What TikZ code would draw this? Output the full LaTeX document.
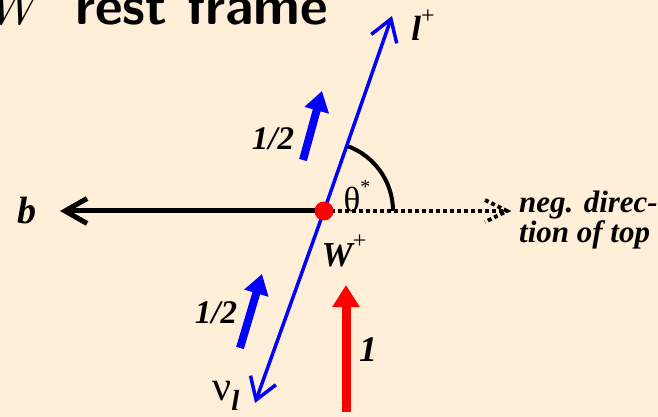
\documentclass[tikz,border=0pt]{standalone}
\usepackage{fontspec}
\newfontfamily\labelfont{Liberation Serif}
\usepackage{xcolor}
\definecolor{pageBg}{HTML}{FFEED8}
\definecolor{leptonBlue}{HTML}{0000FF}
\definecolor{spinRed}{HTML}{FF0000}
\usetikzlibrary{arrows.meta}
\newcommand{\supsign}[1]{\raisebox{0.5em}{\fontsize{24}{24}\selectfont\mdseries\upshape #1}}
\tikzset{
  lbl/.style={
    inner sep=0pt,
    font=\labelfont\bfseries\itshape\fontsize{33}{33}\selectfont
  },
  notelbl/.style={
    inner sep=0pt,
    align=left,
    font=\labelfont\bfseries\itshape\fontsize{31}{28}\selectfont
  },
  lepline/.style={
    draw=leptonBlue,
    line width=3.5pt,
    -{Straight Barb[length=21pt,width=27pt]}
  },
  bline/.style={
    draw=black,
    line width=5pt,
    -{Straight Barb[length=22pt,width=25pt]}
  },
  topdots/.style={
    draw=black,
    line width=4pt,
    dash pattern=on 4pt off 3pt
  },
  anglearc/.style={
    draw=black,
    line width=4pt
  },
  spinhalf/.style={
    draw=leptonBlue,
    line width=8pt,
    -{Triangle[length=20pt,width=24pt]}
  },
  spinone/.style={
    draw=spinRed,
    line width=9pt,
    -{Triangle[length=22pt,width=26pt]}
  },
  wdot/.style={
    circle,
    fill=spinRed,
    minimum size=19pt,
    inner sep=0pt
  }
}

\begin{document}
\begin{tikzpicture}[x=1pt,y=1pt]
  \fill[pageBg] (-324,-206) rectangle (334,211);
  \useasboundingbox (-324,-206) rectangle (334,211);
  \clip (-324,-206) rectangle (334,211);
  % title, cut by the page edge
  \node[anchor=base east,inner sep=0pt,font=\itshape\fontsize{54}{54}\selectfont] (titlew) at (-287,186) {W};
  \node[anchor=base west,inner sep=0pt,font=\sffamily\bfseries\fontsize{54}{54}\selectfont] (title) at (-249,186) {rest frame};
  % decay axes
  \coordinate (wc) at (0,0);
  \coordinate (ltip) at (68,195);
  \coordinate (nutip) at (-69,-192);
  \coordinate (btip) at (-264,0);
  \coordinate (toptip) at (183,0);
  \draw[bline] (wc) -- (btip);
  \draw[topdots] (wc) -- (toptip);
  \draw[topdots] ([shift={(-22,11)}]toptip) -- (toptip) -- ([shift={(-22,-11)}]toptip);
  \draw[anglearc] (69,0) arc[start angle=0,end angle=70.8,radius=69];
  \draw[lepline] (wc) -- (ltip);
  \draw[lepline] (wc) -- (nutip);
  \node[wdot] (wplus) at (wc) {};
  % spins
  \coordinate (spinatail) at (-21,51);
  \coordinate (spinatip) at (-2,120);
  \coordinate (spinbtail) at (-84,-137);
  \coordinate (spinbtip) at (-62,-63);
  \coordinate (spinwtail) at (22,-201);
  \coordinate (spinwtip) at (22,-74);
  \foreach \s in {spina,spinb}{\draw[spinhalf] (\s tail) -- (\s tip);}
  \draw[spinone] (spinwtail) -- (spinwtip);
  % labels
  \node[lbl,font=\labelfont\bfseries\itshape\fontsize{38}{38}\selectfont] (blabel) at (-297,0) {b};
  \node[lbl,font=\labelfont\bfseries\itshape\fontsize{35}{35}\selectfont] (llabel) at (99,186) {l\supsign{+}};
  \node[lbl,font=\labelfont\bfseries\itshape\fontsize{35}{35}\selectfont] (wlabel) at (20,-40) {W\supsign{+}};
  \node[lbl,font=\labelfont\fontsize{35}{35}\selectfont] (thetalabel) at (33,15) {θ\raisebox{0.5em}{\fontsize{20}{20}\selectfont *}};
  \node[lbl,font=\labelfont\fontsize{42}{42}\selectfont] (nulabel) at (-98,-185) {ν\raisebox{-0.25em}{\bfseries\itshape\fontsize{29}{29}\selectfont l}};
  \node[lbl] (halfalabel) at (-51,72) {1/2};
  \node[lbl] (halfblabel) at (-108,-102) {1/2};
  \node[lbl,font=\labelfont\bfseries\itshape\fontsize{36}{36}\selectfont] (onelabel) at (44,-139) {1};
  \node[notelbl,anchor=west] (toplabel) at (195,-9) {neg. direc-\\tion of top};
\end{tikzpicture}
\end{document}
